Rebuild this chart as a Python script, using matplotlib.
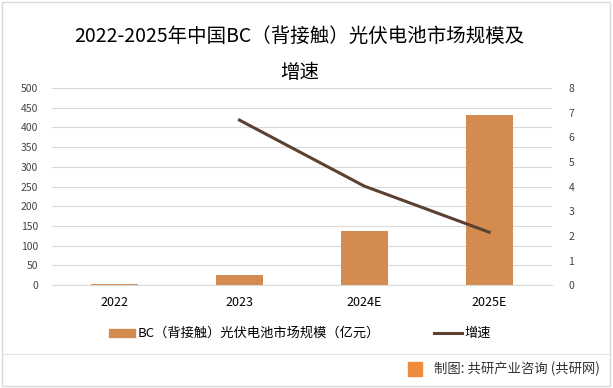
import numpy as np
import matplotlib.pyplot as plt
from matplotlib.patches import Rectangle
from matplotlib.lines import Line2D

plt.rcParams['font.family'] = ['Noto Sans CJK SC', 'DejaVu Sans']

# datos
categorias = ['2022', '2023', '2024E', '2025E']
mercado = [3, 26, 138, 432]
crecimiento = [None, 6.7, 4.02, 2.15]

color_barra = '#D38B4F'
color_linea = '#5C4130'

fig = plt.figure(figsize=(6.13, 3.88), dpi=100)
ax = fig.add_axes([0.085, 0.265, 0.815, 0.508])
ax2 = ax.twinx()

x = np.arange(len(categorias))
ax.bar(x, mercado, width=0.38, color=color_barra, zorder=2)
xs = [i for i, v in zip(x, crecimiento) if v is not None]
ys = [v for v in crecimiento if v is not None]
ax2.plot(xs, ys, color=color_linea, lw=2.2, zorder=3)

ax.set_xlim(-0.5, len(categorias) - 0.5)
ax.set_ylim(0, 500)
ax.set_yticks(range(0, 501, 50))
ax2.set_ylim(0, 8)
ax2.set_yticks(range(0, 9))
ax.set_xticks(x)
ax.set_xticklabels(categorias, fontsize=9)
ax.tick_params(axis='x', length=0, pad=8)
ax.tick_params(axis='y', length=0, labelsize=7.5, colors='#444444', pad=10)
ax2.tick_params(axis='y', length=0, labelsize=7.5, colors='#444444', pad=12)
ax.grid(axis='y', color='#D9D9D9', lw=0.8, zorder=0)
for a in (ax, ax2):
    for s in a.spines.values():
        s.set_visible(False)
ax.spines['bottom'].set_visible(True)
ax.spines['bottom'].set_color('#D9D9D9')

fig.text(0.489, 0.905, '2022-2025年中国BC（背接触）光伏电池市场规模及', ha='center',
         va='center', fontsize=14)
fig.text(0.489, 0.813, '增速', ha='center', va='center', fontsize=14)

# leyenda
fig.patches.append(Rectangle((0.178, 0.131), 0.042, 0.022, transform=fig.transFigure,
                             color=color_barra))
fig.text(0.224, 0.142, 'BC（背接触）光伏电池市场规模（亿元）', va='center', fontsize=9.5)
fig.lines.append(Line2D([0.708, 0.754], [0.142, 0.142], transform=fig.transFigure,
                        color=color_linea, lw=2.2))
fig.text(0.757, 0.142, '增速', va='center', fontsize=9.5)

# marco y pie
fig.patches.append(Rectangle((0.003, 0.004), 0.992, 0.99, transform=fig.transFigure,
                             fill=False, edgecolor='#D9D9D9', lw=1))
fig.lines.append(Line2D([0.003, 0.995], [0.088, 0.088], transform=fig.transFigure,
                        color='#E3E3E3', lw=0.8))
fig.patches.append(Rectangle((0.666, 0.03), 0.023, 0.036, transform=fig.transFigure,
                             color='#F08A3C'))
fig.text(0.978, 0.048, '制图: 共研产业咨询 (共研网)', ha='right', va='center',
         fontsize=9.6, color='#333333')

fig.savefig('out.png', dpi=100)
